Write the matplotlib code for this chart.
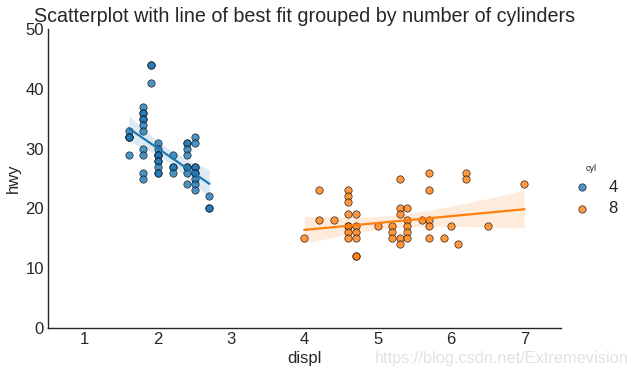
import matplotlib
matplotlib.use("Agg")
import matplotlib.pyplot as plt
import numpy as np

# ── Data ───────────────────────────────────────────────────────────────────────
displ_4 = [1.6, 1.6, 1.6, 1.6, 1.6,
           1.8, 1.8, 1.8, 1.8, 1.8, 1.8, 1.8, 1.8, 1.8, 1.8, 1.8,
           1.9, 1.9, 1.9,
           2.0, 2.0, 2.0, 2.0, 2.0, 2.0, 2.0, 2.0, 2.0, 2.0,
           2.2, 2.2, 2.2, 2.2,
           2.4, 2.4, 2.4, 2.4, 2.4, 2.4, 2.4, 2.4,
           2.5, 2.5, 2.5, 2.5, 2.5, 2.5, 2.5, 2.5, 2.5,
           2.7, 2.7, 2.7]
hwy_4 = [33, 32, 32, 32, 29,
         37, 36, 36, 35, 35, 34, 33, 30, 29, 26, 25,
         44, 44, 41,
         31, 30, 29, 29, 29, 28, 28, 27, 26, 26,
         29, 27, 27, 26,
         31, 31, 30, 29, 27, 27, 26, 24,
         32, 31, 27, 27, 26, 26, 25, 24, 23,
         22, 20, 20]

displ_8 = [4.0,
           4.2, 4.2,
           4.4,
           4.6, 4.6, 4.6, 4.6, 4.6, 4.6, 4.6, 4.6,
           4.7, 4.7, 4.7, 4.7, 4.7, 4.7,
           5.0,
           5.2, 5.2, 5.2,
           5.3, 5.3, 5.3, 5.3, 5.3,
           5.4, 5.4, 5.4, 5.4, 5.4,
           5.6,
           5.7, 5.7, 5.7, 5.7, 5.7,
           5.9, 6.0, 6.1,
           6.2, 6.2,
           6.5, 7.0]
hwy_8 = [15,
         23, 18,
         18,
         23, 22, 21, 19, 17, 17, 16, 15,
         19, 17, 16, 15, 12, 12,
         17,
         17, 16, 15,
         25, 20, 19, 15, 14,
         20, 18, 17, 16, 15,
         18,
         26, 23, 18, 17, 15,
         15, 17, 14,
         26, 25,
         17, 24]

groups = ["4", "8"]
colors = ["#1f77b4", "#ff7f0e"]

plt.rcParams.update({
    "font.family": ["Liberation Sans", "DejaVu Sans"],
    "text.color": "#262626",
    "axes.labelcolor": "#262626",
    "xtick.color": "#262626",
    "ytick.color": "#262626",
})


def huber_fit(x, y, t=1.345, n_iter=50):
    """Robust (Huber) linear fit via IRLS."""
    X = np.column_stack([np.ones_like(x), x])
    beta = np.linalg.lstsq(X, y, rcond=None)[0]
    for _ in range(n_iter):
        r = y - X @ beta
        s = np.median(np.abs(r)) / 0.6745
        u = np.abs(r / s)
        w = np.where(u <= t, 1.0, t / np.maximum(u, 1e-12))
        W = np.sqrt(w)
        beta = np.linalg.lstsq(X * W[:, None], y * W, rcond=None)[0]
    return beta


def ci_band(x, y, beta, grid):
    n = len(x)
    resid = y - (beta[0] + beta[1] * x)
    s = np.sqrt(np.sum(resid ** 2) / (n - 2))
    sxx = np.sum((x - x.mean()) ** 2)
    se = s * np.sqrt(1 / n + (grid - x.mean()) ** 2 / sxx)
    return 2.01 * se


fig = plt.figure(figsize=(6.32, 3.73), dpi=100)
ax = fig.add_axes([0.0759, 0.1206, 0.8117, 0.8016])

handles = []
for (xs, ys), label, color in zip([(displ_4, hwy_4), (displ_8, hwy_8)], groups, colors):
    x = np.array(xs, dtype=float)
    y = np.array(ys, dtype=float)
    h = ax.scatter(x, y, s=28, color=color, alpha=0.8, edgecolors="black",
                   linewidths=0.5, zorder=3, label=label)
    handles.append(h)
    beta = huber_fit(x, y)
    grid = np.linspace(x.min(), x.max(), 100)
    fit = beta[0] + beta[1] * grid
    band = ci_band(x, y, beta, grid)
    ax.plot(grid, fit, color=color, lw=1.6, zorder=4)
    ax.fill_between(grid, fit - band, fit + band, color=color, alpha=0.15,
                    linewidth=0, zorder=2)

ax.set_xlim(0.5, 7.5)
ax.set_ylim(0, 50)
ax.set_xticks(range(1, 8))
ax.set_yticks(range(0, 51, 10))
ax.tick_params(length=0, labelsize=12, pad=3)
for side in ["top", "right"]:
    ax.spines[side].set_visible(False)
for side in ["left", "bottom"]:
    ax.spines[side].set_color("#262626")
    ax.spines[side].set_linewidth(1.0)

ax.set_xlabel("displ", fontsize=12, labelpad=3)
ax.set_ylabel("hwy", fontsize=12, labelpad=3)
ax.set_title("Scatterplot with line of best fit grouped by number of cylinders",
             fontsize=14.2, pad=5)

leg = fig.legend(handles, groups, title="cyl", loc="center left",
                 bbox_to_anchor=(0.87, 0.49), frameon=False, fontsize=12,
                 title_fontsize=6.5, handletextpad=0.6, labelspacing=0.4,
                 markerscale=1.0)

fig.text(0.995, 0.018, "https://blog.csdn.net/Extremevision", ha="right",
         va="bottom", fontsize=11.8, color="#e2e2e2")

fig.savefig("out.png", dpi=100)
